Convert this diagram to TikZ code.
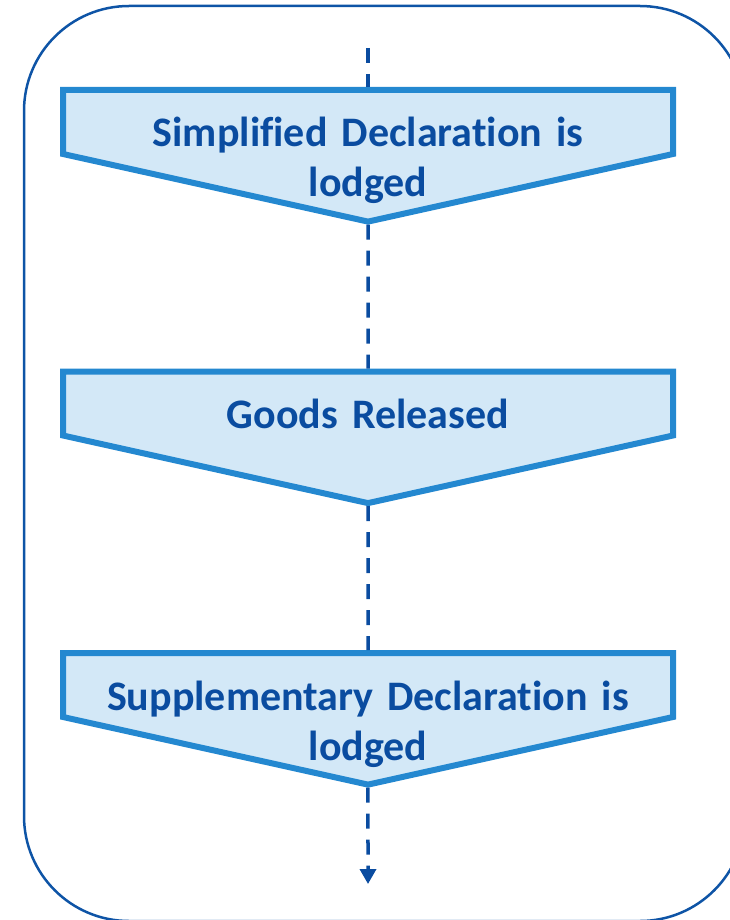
\documentclass[tikz,border=0pt]{standalone}
\usepackage{fontspec}
\setmainfont{Carlito}[Ligatures=NoCommon]
\usetikzlibrary{shapes.symbols, arrows.meta}

\definecolor{frameblue}{RGB}{14,84,166}
\definecolor{boxline}{RGB}{36,136,208}
\definecolor{boxfill}{RGB}{211,232,247}
\definecolor{textblue}{RGB}{10,76,160}

\tikzstyle{stepbox} = [signal, signal to=south, signal from=nowhere, signal pointer angle=155, draw=boxline, line width=6pt, fill=boxfill, text=textblue, text width=610pt, align=center, text height=57pt, text depth=7pt, inner sep=0pt, font=\fontsize{42}{50}\selectfont\bfseries]
\tikzstyle{connector} = [line width=3.5pt, draw=textblue, dash pattern=on 15pt off 11pt]
\tikzstyle{arrow} = [connector, ->, >={Triangle[length=15pt, width=16pt]}]
\tikzstyle{frame} = [draw=frameblue, line width=2.5pt, rounded corners=105pt]

\begin{document}
\begin{tikzpicture}[x=1pt, y=1pt, node distance=281.5pt]

\useasboundingbox (0,0) rectangle (730,-920);
\draw [frame] (24,-6) rectangle (745,-921);

\node (simp) [stepbox] at (368,-122) {Simplified Declaration is\\lodged};
\node (rel) [stepbox, below of=simp] {Goods Released};
\node (supp) [stepbox, below of=rel] {Supplementary Declaration is\\lodged};

\coordinate [above of=simp, node distance=74pt] (entry);
\coordinate [below of=supp, node distance=199pt] (exit);

\draw [connector] (entry) -- (simp);
\draw [connector] (simp) -- (rel);
\draw [connector] (rel) -- (supp);
\draw [arrow] (supp) -- (exit);

\end{tikzpicture}
\end{document}
